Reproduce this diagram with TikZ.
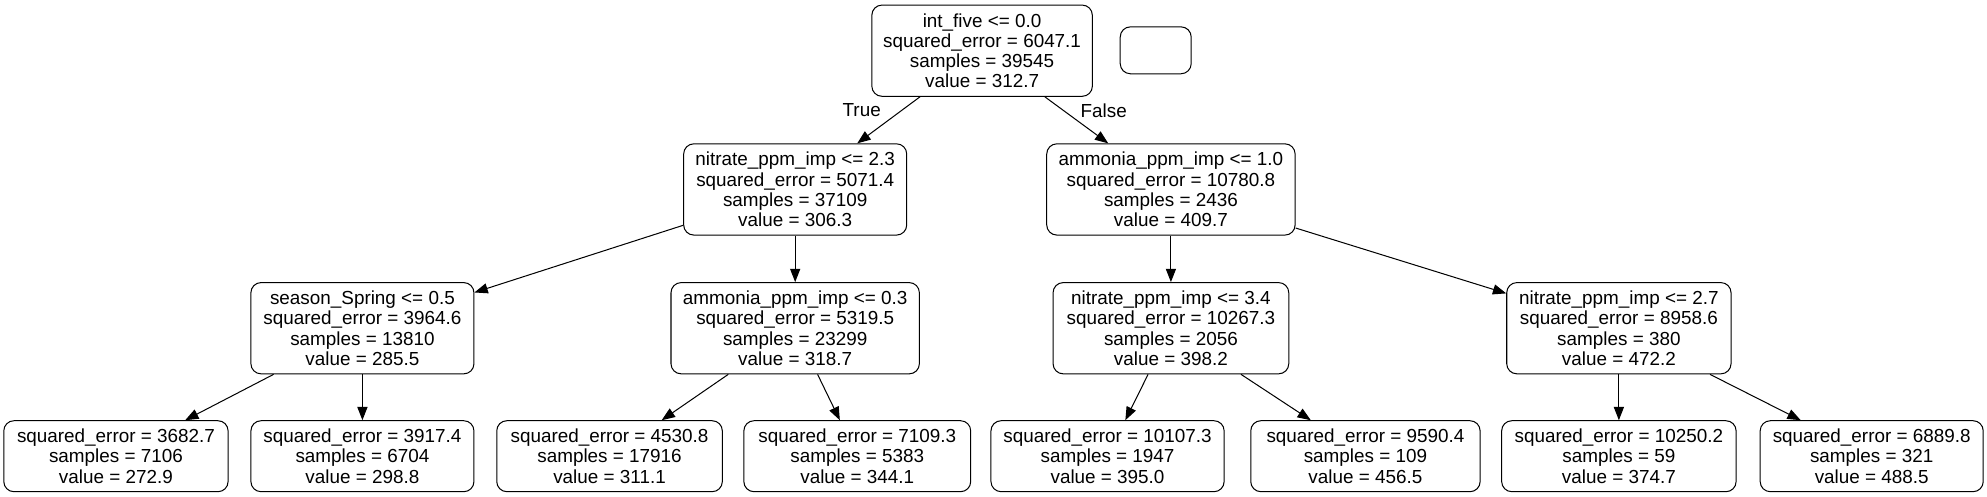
\documentclass[tikz,border=0pt]{standalone}
\usepackage{fontspec}
\setmainfont{Liberation Sans}
\usetikzlibrary{arrows.meta}
\tikzset{
  tbox/.style={draw=black, line width=0.8pt, rounded corners=8pt, fill=white,
    inner sep=0pt, align=center, minimum height=72pt,
    font=\fontsize{14.9}{16}\selectfont},
  leafbox/.style={tbox, minimum height=56pt},
  edge/.style={draw=black, line width=0.8pt, -{Triangle[length=10.5pt,width=8pt]}},
  elabel/.style={font=\fontsize{14.9}{16}\selectfont, inner sep=0pt}
}
\begin{document}
\begin{tikzpicture}[x=1pt,y=-1pt]
\useasboundingbox (0,0) rectangle (1568,392);
\node[tbox, minimum width=174pt] (root) at (775,40) {int\_five <= 0.0\\squared\_error = 6047.1\\samples = 39545\\value = 312.7};
\node[tbox, minimum width=56pt, minimum height=37pt] (empty) at (912,39.7) {};
\node[tbox, minimum width=176pt] (l1l) at (627.5,149.5) {nitrate\_ppm\_imp <= 2.3\\squared\_error = 5071.4\\samples = 37109\\value = 306.3};
\node[tbox, minimum width=196pt] (l1r) at (924,149.5) {ammonia\_ppm\_imp <= 1.0\\squared\_error = 10780.8\\samples = 2436\\value = 409.7};
\node[tbox, minimum width=176pt] (s) at (286,259) {season\_Spring <= 0.5\\squared\_error = 3964.6\\samples = 13810\\value = 285.5};
\node[tbox, minimum width=196pt] (a3) at (627.5,259) {ammonia\_ppm\_imp <= 0.3\\squared\_error = 5319.5\\samples = 23299\\value = 318.7};
\node[tbox, minimum width=186pt] (n34) at (924,259) {nitrate\_ppm\_imp <= 3.4\\squared\_error = 10267.3\\samples = 2056\\value = 398.2};
\node[tbox, minimum width=177pt] (n27) at (1277.5,259) {nitrate\_ppm\_imp <= 2.7\\squared\_error = 8958.6\\samples = 380\\value = 472.2};
\node[leafbox, minimum width=177pt] (f1) at (91.5,360) {squared\_error = 3682.7\\samples = 7106\\value = 272.9};
\node[leafbox, minimum width=176pt] (f2) at (286,360) {squared\_error = 3917.4\\samples = 6704\\value = 298.8};
\node[leafbox, minimum width=178pt] (f3) at (481,360) {squared\_error = 4530.8\\samples = 17916\\value = 311.1};
\node[leafbox, minimum width=179pt] (f4) at (676.5,360) {squared\_error = 7109.3\\samples = 5383\\value = 344.1};
\node[leafbox, minimum width=184pt] (f5) at (874,360) {squared\_error = 10107.3\\samples = 1947\\value = 395.0};
\node[leafbox, minimum width=181pt] (f6) at (1077.5,360) {squared\_error = 9590.4\\samples = 109\\value = 456.5};
\node[leafbox, minimum width=185pt] (f7) at (1277.5,360) {squared\_error = 10250.2\\samples = 59\\value = 374.7};
\node[leafbox, minimum width=176pt] (f8) at (1477,360) {squared\_error = 6889.8\\samples = 321\\value = 488.5};
\draw[edge] (root) -- (l1l);
\draw[edge] (root) -- (l1r);
\node[elabel] (tl) at (680,87) {True};
\node[elabel] (fl) at (871,87) {False};
\draw[edge] (l1l) -- (s);
\draw[edge] (l1l) -- (a3);
\draw[edge] (l1r) -- (n34);
\draw[edge] (l1r) -- (n27);
\draw[edge] (s) -- (f1);
\draw[edge] (s) -- (f2);
\draw[edge] (a3) -- (f3);
\draw[edge] (a3) -- (f4);
\draw[edge] (n34) -- (f5);
\draw[edge] (n34) -- (f6);
\draw[edge] (n27) -- (f7);
\draw[edge] (n27) -- (f8);
\end{tikzpicture}
\end{document}
